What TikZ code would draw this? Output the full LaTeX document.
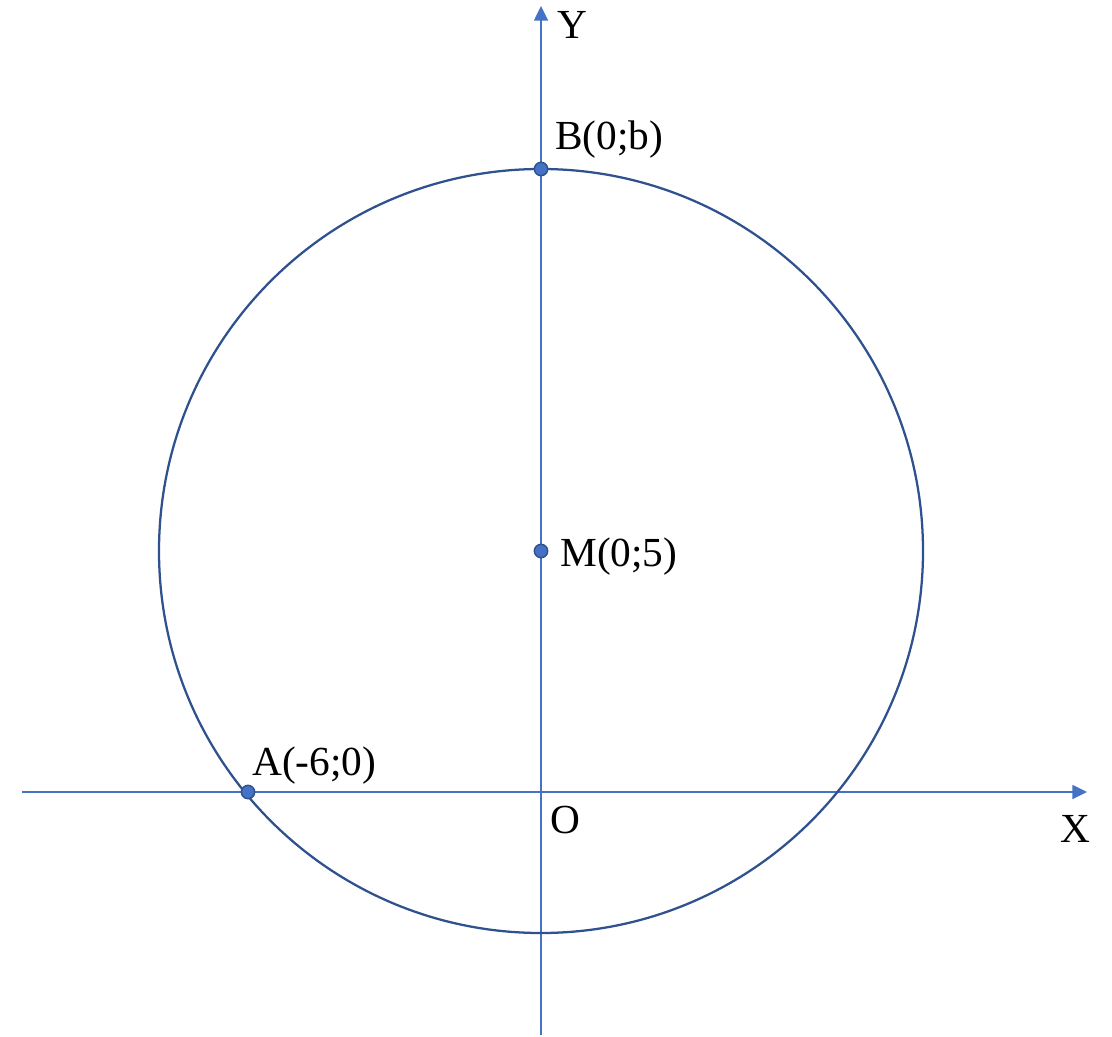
\documentclass[tikz,border=0pt]{standalone}
\usepackage{fontspec}
\setmainfont{Liberation Serif}
\usetikzlibrary{arrows.meta}
\definecolor{axisblue}{HTML}{4472C4}
\definecolor{circblue}{HTML}{2F528F}
\begin{document}
\begin{tikzpicture}[x=0.75pt,y=-0.75pt,
  axis/.style={draw=axisblue,line width=1.1pt,-{Triangle[length=11pt,width=10.5pt]}},
  pt/.style={circle,draw=circblue,fill=axisblue,line width=1.1pt,minimum size=10pt,inner sep=0pt},
  lbl/.style={anchor=base west,inner sep=0pt,font=\fontsize{31}{36}\selectfont}]
\useasboundingbox (0,0) rectangle (1112,1037);
\coordinate (O) at (541,792);
\coordinate (xs) at (22,792);
\coordinate (xe) at (1087,792);
\coordinate (ys) at (541,1035);
\coordinate (ye) at (541,6);
\draw[axis] (xs) -- (xe);
\draw[axis] (ys) -- (ye);
\draw[circblue,line width=1.7pt] (541,551) circle[radius=382];
\node[pt] (B) at (541,169) {};
\node[pt] (M) at (541,551) {};
\node[pt] (A) at (248,792) {};
\node[lbl] (Yl) at (557,39) {Y};
\node[lbl] (Bl) at (555,150) {B(0;b)};
\node[lbl] (Ml) at (560,566) {M(0;5)};
\node[lbl] (Al) at (252,775) {A(-6;0)};
\node[lbl] (Ol) at (550,833) {O};
\node[lbl] (Xl) at (1060,842) {X};
\end{tikzpicture}
\end{document}
